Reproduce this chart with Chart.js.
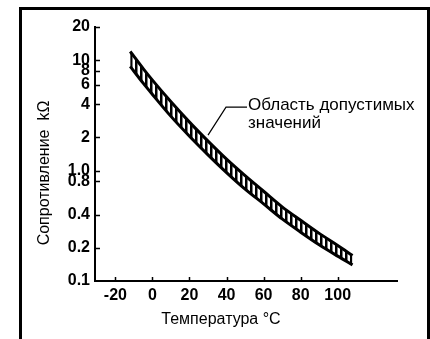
<!DOCTYPE html>
<html>
<head>
<meta charset="utf-8">
<script src="https://cdn.jsdelivr.net/npm/chart.js@4/dist/chart.umd.min.js"></script>
<style>
    html, body { margin: 0; padding: 0; background: #fff; }
    #wrap { position: relative; width: 430px; height: 339px; overflow: hidden; }
    #frame {
        position: absolute; left: 19px; top: 7px; width: 405px; height: 360px;
        border-left: 3px solid #000; border-top: 3px solid #000; border-right: 3px solid #000;
    }
    canvas { position: absolute; left: 0; top: 0; }
</style>
</head>
<body>
<div id="wrap">
    <div id="frame"></div>
    <canvas id="ntcChart" width="430" height="339"></canvas>
</div>
<script>
// temperature, °C
const temps = [-12, -5, 0, 10, 20, 30, 40, 50, 60, 70, 80, 90, 100, 108];
// tolerance band, kΩ
const upperR = [12, 8.4, 6.6, 4.2, 2.75, 1.85, 1.27, 0.9, 0.65, 0.47, 0.355, 0.27, 0.21, 0.17];
const lowerR = [8.8, 6.2, 4.9, 3.1, 2.05, 1.39, 0.96, 0.68, 0.5, 0.365, 0.277, 0.213, 0.168, 0.14];

const xTicks = [-20, 0, 20, 40, 60, 80, 100];
const yTicks = [0.1, 0.2, 0.4, 0.8, 1, 2, 4, 6, 8, 10, 20];
const yTickLabels = ['0.1', '0.2', '0.4', '0.8', '1.0', '2', '4', '6', '8', '10', '20'];

const noteText = ['Область допустимых', 'значений'];
const notePoint = { t: 30, r: 1.85 };

const FONT = "'Liberation Sans Narrow', 'Arial Narrow', 'Liberation Sans', sans-serif";

// hatch for the band
function hatchPattern() {
    const c = document.createElement('canvas');
    c.width = 5; c.height = 5;
    const g = c.getContext('2d');
    g.fillStyle = '#000';
    g.fillRect(0, 0, 2.5, 5);
    return g.createPattern(c, 'repeat');
}

// inward tick marks, axis titles and the leader note
const decorations = {
    id: 'decorations',
    afterDraw(chart) {
        const { ctx, chartArea } = chart;
        const xs = chart.scales.x, ys = chart.scales.y;
        ctx.save();
        ctx.strokeStyle = '#000';
        ctx.lineWidth = 1.5;
        ctx.beginPath();
        yTicks.forEach(v => {
            if (v === 0.1) return;
            const py = Math.round(ys.getPixelForValue(v)) + 0.5;
            ctx.moveTo(chartArea.left, py);
            ctx.lineTo(chartArea.left + 5, py);
        });
        xTicks.forEach(v => {
            const px = Math.round(xs.getPixelForValue(v)) + 0.5;
            ctx.moveTo(px, chartArea.bottom);
            ctx.lineTo(px, chartArea.bottom - 4);
        });
        ctx.stroke();

        ctx.fillStyle = '#000';
        ctx.font = '16px ' + FONT;
        ctx.textAlign = 'center';
        ctx.textBaseline = 'middle';
        ctx.fillText('Температура °C', 221, 320);
        ctx.save();
        ctx.translate(45, 173);
        ctx.rotate(-Math.PI / 2);
        ctx.fillText('Сопротивление  kΩ', 0, 0);
        ctx.restore();

        // note with leader line to the band
        const ax = xs.getPixelForValue(notePoint.t);
        const ay = ys.getPixelForValue(notePoint.r) - 6;
        const tx = ax + 40, ty = ay - 28;
        ctx.lineWidth = 1.2;
        ctx.beginPath();
        ctx.moveTo(ax, ay);
        ctx.lineTo(ax + 18, ty);
        ctx.lineTo(tx - 1, ty);
        ctx.stroke();
        ctx.font = '17px ' + FONT;
        ctx.textAlign = 'left';
        ctx.textBaseline = 'alphabetic';
        ctx.fillText(noteText[0], tx, ty + 3);
        ctx.fillText(noteText[1], tx, ty + 21);
        ctx.restore();
    }
};

const ctx = document.getElementById('ntcChart').getContext('2d');
new Chart(ctx, {
    type: 'line',
    data: {
        datasets: [{
            data: temps.map((t, i) => ({ x: t, y: upperR[i] })),
            borderColor: '#000',
            borderWidth: 3,
            backgroundColor: hatchPattern(),
            fill: '+1',
            pointRadius: 0,
            cubicInterpolationMode: 'monotone'
        }, {
            data: temps.map((t, i) => ({ x: t, y: lowerR[i] })),
            borderColor: '#000',
            borderWidth: 3,
            fill: false,
            pointRadius: 0,
            cubicInterpolationMode: 'monotone'
        }]
    },
    options: {
        responsive: false,
        animation: false,
        layout: { padding: { left: 0, right: 33, top: 27, bottom: 0 } },
        plugins: { legend: { display: false }, tooltip: { enabled: false } },
        scales: {
            x: {
                type: 'linear',
                min: -31,
                max: 132,
                afterBuildTicks: (scale) => { scale.ticks = xTicks.map(v => ({ value: v })); },
                afterFit: (scale) => { scale.height = 58; },
                grid: { display: true, drawOnChartArea: false, drawTicks: false },
                border: { display: true, color: '#000', width: 2 },
                ticks: {
                    color: '#000',
                    padding: 5,
                    autoSkip: false,
                    maxRotation: 0,
                    font: { family: FONT, size: 16, weight: 'bold' }
                }
            },
            y: {
                type: 'logarithmic',
                min: 0.1,
                max: 20,
                afterBuildTicks: (scale) => { scale.ticks = yTicks.map(v => ({ value: v })); },
                afterFit: (scale) => { scale.width = 95; },
                grid: { display: true, drawOnChartArea: false, drawTicks: false },
                border: { display: true, color: '#000', width: 2 },
                ticks: {
                    color: '#000',
                    padding: 5,
                    autoSkip: false,
                    font: { family: FONT, size: 16, weight: 'bold' },
                    callback: (value, index) => yTickLabels[index]
                }
            }
        }
    },
    plugins: [decorations]
});
</script>
</body>
</html>
